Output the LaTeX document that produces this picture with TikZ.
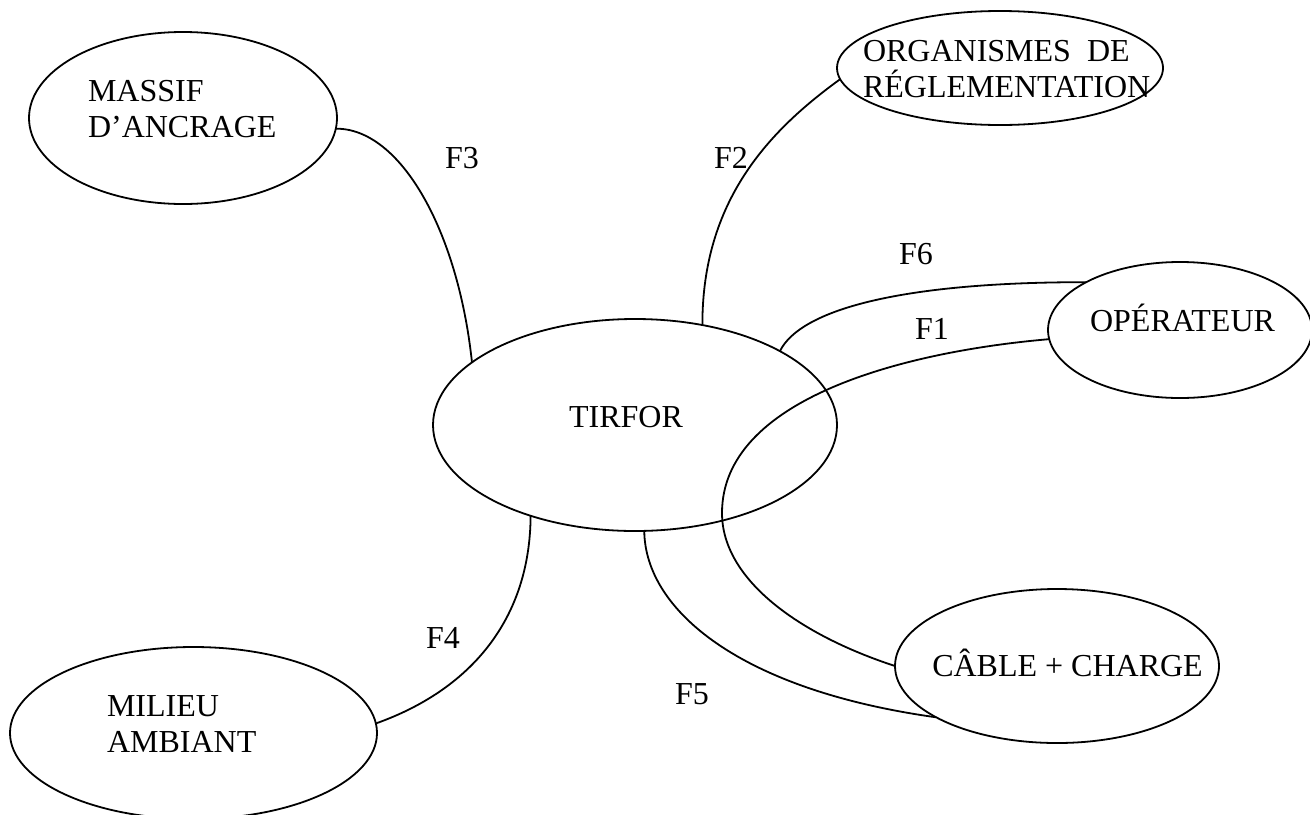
\documentclass[tikz,border=0pt]{standalone}
\usepackage{fontspec}
\setmainfont{Liberation Serif}
\usetikzlibrary{shapes.geometric}
\begin{document}
\begin{tikzpicture}[x=0.5pt,y=-0.5pt,
  ell/.style={draw, ellipse, line width=0.9pt, inner sep=0pt, outer sep=0pt},
  lbl/.style={font=\fontsize{16pt}{18pt}\selectfont, inner sep=0pt, outer sep=0pt},
  conn/.style={line width=0.9pt}]
\useasboundingbox (0,0) rectangle (1310,814);

% ellipses
\node[ell, minimum width=308pt/2, minimum height=172pt/2] (massif) at (183,118) {};
\node[ell, minimum width=326pt/2, minimum height=114pt/2] (org) at (1000,68) {};
\node[ell, minimum width=264pt/2, minimum height=136pt/2] (oper) at (1180,330) {};
\node[ell, minimum width=404pt/2, minimum height=212pt/2] (tirfor) at (635,425) {};
\node[ell, minimum width=324pt/2, minimum height=154pt/2] (cable) at (1057,666) {};
\node[ell, minimum width=367pt/2, minimum height=172pt/2] (milieu) at (193.5,733) {};

% texts (base anchor = baseline of the last line)
\node[lbl, align=left, anchor=base west] (tmassif) at (88,137) {MASSIF\\D’ANCRAGE};
\node[lbl, align=left, anchor=base west] (torg) at (863,97) {ORGANISMES\ \ DE\\RÉGLEMENTATION};
\node[lbl, anchor=base] (toper) at (1182.5,331) {OPÉRATEUR};
\node[lbl, anchor=base] (ttirfor) at (626,427) {TIRFOR};
\node[lbl, anchor=base] (tcable) at (1067.5,676) {CÂBLE + CHARGE};
\node[lbl, align=left, anchor=base west] (tmilieu) at (107,752) {MILIEU\\AMBIANT};

% connectors
\coordinate (f1mid) at (722,513);
\draw[conn] (massif.-4) .. controls (400,128) and (458,230) .. (tirfor.159);
\draw[conn] (tirfor.56) .. controls (702,200) and (770,130) .. (org.-176);
\draw[conn] (tirfor.27) .. controls (800,310) and (900,282) .. (oper.153);
\draw[conn] (oper.184) .. controls (900,352) and (722,400) .. (f1mid)
                       .. controls (722,580) and (800,635) .. (cable.west);
\draw[conn] (tirfor.-85) .. controls (645,610) and (740,690) .. (cable.-157);
\draw[conn] (tirfor.-139) .. controls (530,620) and (470,690) .. (milieu.3);

% connector labels
\node[lbl] (lf3) at (462,158) {F3};
\node[lbl] (lf2) at (731,158) {F2};
\node[lbl] (lf6) at (916,254) {F6};
\node[lbl] (lf1) at (932,329) {F1};
\node[lbl] (lf4) at (443,638) {F4};
\node[lbl] (lf5) at (692,694) {F5};
\end{tikzpicture}
\end{document}
